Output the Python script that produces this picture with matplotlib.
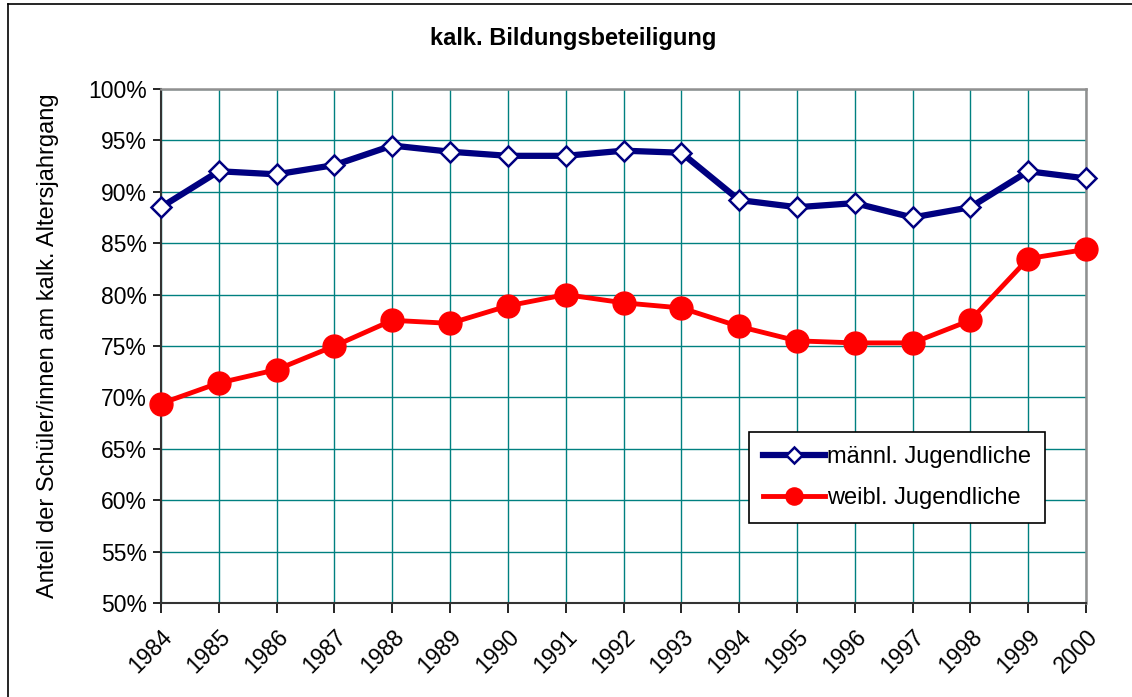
import matplotlib.pyplot as plt
from matplotlib.lines import Line2D
from matplotlib.ticker import PercentFormatter

plt.rcParams['font.family'] = ['Liberation Sans', 'DejaVu Sans']

# Daten
jahre = [1984, 1985, 1986, 1987, 1988, 1989, 1990, 1991, 1992,
         1993, 1994, 1995, 1996, 1997, 1998, 1999, 2000]
maennlich = [88.5, 92.0, 91.7, 92.6, 94.5, 93.9, 93.5, 93.5, 94.0,
             93.8, 89.2, 88.5, 88.9, 87.5, 88.5, 92.0, 91.3]
weiblich = [69.4, 71.4, 72.7, 75.0, 77.5, 77.2, 78.9, 80.0, 79.2,
            78.7, 76.9, 75.5, 75.3, 75.3, 77.5, 83.5, 84.4]
y_ticks = list(range(50, 101, 5))

fig = plt.figure(figsize=(11.32, 6.97), dpi=100)
ax = fig.add_axes([0.1422, 0.1349, 0.8172, 0.7374])

# Rahmen um die Grafik
fig.add_artist(Line2D([8/1132, 8/1132], [0, 1 - 4/697], color='black', lw=1.2, transform=fig.transFigure))
fig.add_artist(Line2D([8/1132, 1], [1 - 4/697, 1 - 4/697], color='black', lw=1.2, transform=fig.transFigure))

ax.plot(jahre, maennlich, color='#000080', lw=4.5, marker='D', ms=10.5,
        mfc='white', mec='#000080', mew=1.8, label='männl. Jugendliche',
        zorder=3, clip_on=False)
ax.plot(jahre, weiblich, color='#FF0000', lw=3.5, marker='o', ms=16.5,
        mfc='#FF0000', mec='#FF0000', label='weibl. Jugendliche',
        zorder=3, clip_on=False)

ax.set_xlim(jahre[0], jahre[-1])
ax.set_ylim(50, 100)
ax.set_xticks(jahre)
ax.set_xticklabels([str(j) for j in jahre], rotation=45, ha='right',
                   rotation_mode='anchor', fontsize=16.5)
ax.set_yticks(y_ticks)
ax.yaxis.set_major_formatter(PercentFormatter(decimals=0))
ax.tick_params(axis='y', labelsize=16.5, length=6, width=1.2, direction='out', pad=4)
ax.tick_params(axis='x', length=7, width=1.2, direction='out', pad=9)

ax.grid(True, color='#008080', lw=1.0)
ax.set_axisbelow(True)
for s in ['left', 'bottom']:
    ax.spines[s].set_color('#333333')
    ax.spines[s].set_linewidth(1.5)
for s in ['top', 'right']:
    ax.spines[s].set_color('#909090')
    ax.spines[s].set_linewidth(1.8)

ax.set_ylabel('Anteil der Schüler/innen am kalk. Altersjahrgang', fontsize=17)
ax.yaxis.set_label_coords(-0.110, 0.5)

fig.text(0.506, 1 - 38/697, 'kalk. Bildungsbeteiligung', ha='center', va='center',
         fontsize=17, fontweight='bold')

leg = ax.legend(loc='upper left', bbox_to_anchor=((749 - 161) / 925, (603 - 432) / 514),
                fontsize=17, frameon=True, fancybox=False, edgecolor='black',
                framealpha=1, borderpad=0.6, handlelength=2.6, handletextpad=0.1,
                labelspacing=0.8, borderaxespad=0, markerscale=0.75)
leg.get_frame().set_linewidth(1.2)

fig.savefig('out.png', dpi=100)
